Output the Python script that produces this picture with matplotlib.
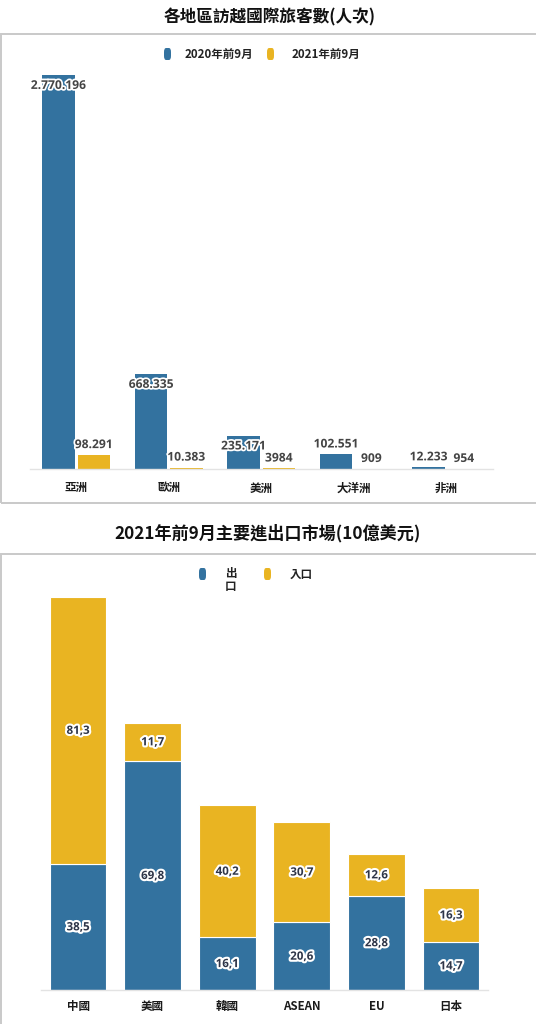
import numpy as np
import matplotlib.pyplot as plt
from matplotlib.patches import Rectangle, FancyBboxPatch
import matplotlib.patheffects as pe

plt.rcParams['font.family'] = ['Noto Sans CJK TC', 'DejaVu Sans']

# ---------------------------------------------------------------
# Datos
# ---------------------------------------------------------------
regiones = ['亞洲', '歐洲', '美洲', '大洋洲', '非洲']
visitas_2020 = [2770196, 668335, 235171, 102551, 12233]
visitas_2021 = [98291, 10383, 3984, 909, 954]
etiquetas_2020 = ['2.770.196', '668.335', '235.171', '102.551', '12.233']
etiquetas_2021 = ['98.291', '10.383', '3984', '909', '954']

mercados = ['中國', '美國', '韓國', 'ASEAN', 'EU', '日本']
exportacion = [38.5, 69.8, 16.1, 20.6, 28.8, 14.7]
importacion = [81.3, 11.7, 40.2, 30.7, 12.6, 16.3]

AZUL = '#33729f'
AMARILLO = '#e9b422'
W, H = 536, 1024


def fx(x):
    return x / W


def fy(y):
    return 1 - y / H


fig = plt.figure(figsize=(W / 100, H / 100), dpi=100)
fig.patch.set_facecolor('white')

# marcos de los paneles
fig.patches.append(Rectangle((fx(1), fy(503)), fx(560), 469 / H, transform=fig.transFigure,
                             fill=False, edgecolor='#c9c9c9', linewidth=1.4))
fig.patches.append(Rectangle((fx(1), fy(1040)), fx(560), 486 / H, transform=fig.transFigure,
                             fill=False, edgecolor='#c9c9c9', linewidth=1.4))

# títulos
fig.text(fx(270), fy(17), '各地區訪越國際旅客數(人次)', ha='center', va='center',
         fontsize=12, fontweight='bold', color='#111111')
fig.text(fx(268), fy(533), '2021年前9月主要進出口市場(10億美元)', ha='center', va='center',
         fontsize=12.3, fontweight='bold', color='#111111')


def marcador(x, y, color):
    fig.patches.append(FancyBboxPatch((fx(x), fy(y + 6)), 7 / W, 12 / H,
                                      boxstyle='round,pad=0,rounding_size=0.004',
                                      transform=fig.transFigure, facecolor=color,
                                      edgecolor='none'))


# leyenda superior
marcador(164, 54, AZUL)
fig.text(fx(185), fy(54), '2020年前9月', ha='left', va='center', fontsize=8.3,
         fontweight='bold', color='#222222')
marcador(267, 54, AMARILLO)
fig.text(fx(292), fy(54), '2021年前9月', ha='left', va='center', fontsize=8.3,
         fontweight='bold', color='#222222')

# leyenda inferior
marcador(199, 574, AZUL)
fig.text(fx(225), fy(580), '出\n口', ha='left', va='center', fontsize=8.3,
         fontweight='bold', color='#222222', linespacing=1.0)
marcador(264, 574, AMARILLO)
fig.text(fx(290), fy(574), '入口', ha='left', va='center', fontsize=8.3,
         fontweight='bold', color='#222222')

halo = [pe.withStroke(linewidth=2.5, foreground='white')]

# ---------------------------------------------------------------
# Gráfico 1: visitantes por región
# ---------------------------------------------------------------
ax1 = fig.add_axes([fx(30), fy(469), 462.5 / W, 399 / H])
x = np.arange(len(regiones))
ancho = 0.35
b1 = ax1.bar(x - 0.19, visitas_2020, ancho, color=AZUL)
b2 = ax1.bar(x + 0.19, visitas_2021, ancho, color=AMARILLO)
ax1.set_xlim(-0.5, len(regiones) - 0.5)
ax1.set_ylim(0, visitas_2020[0] * 399 / 394)

px_por_unidad = 394 / visitas_2020[0]
for barras, etiquetas in ((b1, etiquetas_2020), (b2, etiquetas_2021)):
    for barra, txt in zip(barras, etiquetas):
        alto_px = barra.get_height() * px_por_unidad
        dy = -7.5 if alto_px > 25 else 7.5
        ax1.annotate(txt, (barra.get_x() + barra.get_width() / 2, barra.get_height()),
                     xytext=(0, dy), textcoords='offset points', ha='center', va='center',
                     fontsize=8.7, fontweight='bold', color='#444444',
                     family=['Open Sans', 'DejaVu Sans'], path_effects=halo)

# ---------------------------------------------------------------
# Gráfico 2: mercados de importación / exportación
# ---------------------------------------------------------------
ax2 = fig.add_axes([fx(40.7), fy(990), 447.6 / W, 410 / H])
x2 = np.arange(len(mercados))
s1 = ax2.bar(x2, exportacion, 0.76, color=AZUL, edgecolor='white', linewidth=0.8)
s2 = ax2.bar(x2, importacion, 0.76, bottom=exportacion, color=AMARILLO,
             edgecolor='white', linewidth=0.8)
ax2.set_xlim(-0.5, len(mercados) - 0.5)
ax2.set_ylim(0, 410 / 3.28)

for barras in (s1, s2):
    for barra in barras:
        v = barra.get_height()
        ax2.text(barra.get_x() + barra.get_width() / 2, barra.get_y() + v / 2,
                 f'{v:.1f}'.replace('.', ','), ha='center', va='center', fontsize=8.3,
                 fontweight='bold', color='#2e3548', family=['Open Sans', 'DejaVu Sans'],
                 path_effects=[pe.withStroke(linewidth=3, foreground='white')])

for ax, etiquetas, pad in ((ax1, regiones, 9), (ax2, mercados, 7)):
    ax.set_xticks(np.arange(len(etiquetas)))
    ax.set_xticklabels(etiquetas, fontsize=8.3, fontweight='heavy', color='#1a1a1a')
    ax.tick_params(axis='x', length=0, pad=pad)
    ax.set_yticks([])
    for lado in ('top', 'right', 'left'):
        ax.spines[lado].set_visible(False)
    ax.spines['bottom'].set_color('#e3e3e3')
    ax.spines['bottom'].set_linewidth(1)
    ax.patch.set_alpha(0)

fig.savefig('out.png', dpi=100)
